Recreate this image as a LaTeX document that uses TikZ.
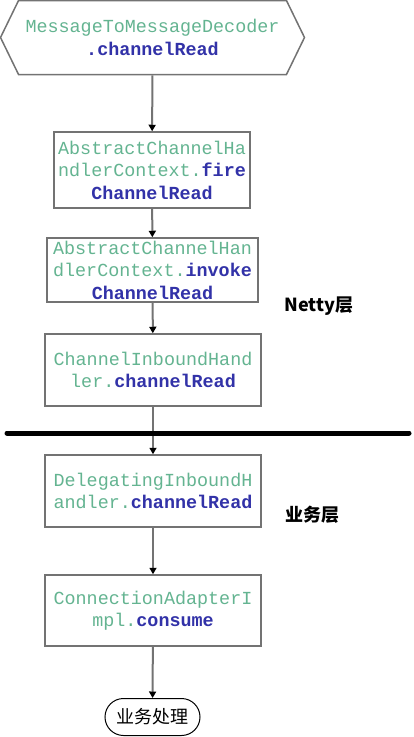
\documentclass[tikz,border=0pt]{standalone}
\usepackage{fontspec}
\setmonofont{Liberation Mono}
\newfontfamily\cjk{Noto Sans CJK SC}
\usetikzlibrary{arrows.meta,shapes.symbols,shapes.misc}
\definecolor{clsgreen}{RGB}{100,180,145}
\definecolor{mthblue}{RGB}{50,50,168}
\definecolor{edgegray}{RGB}{115,115,115}
\newcommand{\cls}[1]{\textcolor{clsgreen}{#1}}
\newcommand{\mth}[1]{\textcolor{mthblue}{\bfseries #1}}
\begin{document}
\begin{tikzpicture}[x=1pt,y=-1pt,
    callbox/.style={draw=edgegray, line width=1.5pt, fill=white, align=center, inner sep=0pt,
      font=\ttfamily\fontsize{18.4}{22.5}\selectfont},
    flow/.style={draw=edgegray, line width=2pt, -{Triangle[length=6.5pt,width=7pt,color=black]}},
    layer/.style={font=\cjk\bfseries\fontsize{18}{20}\selectfont}]
    \useasboundingbox (0,0) rectangle (413,737);
        % nodes
        \node[callbox, shape=signal, signal to=west and east, signal pointer angle=128,
              minimum width=304pt, minimum height=74pt] (decoder) at (152.5,37.5)
              {\cls{MessageToMessageDecoder}\\\mth{.channelRead}};
        \node[callbox, minimum width=196pt, minimum height=76pt] (fire) at (152,170)
              {\cls{AbstractChannelHa}\\\cls{ndlerContext.}\mth{fire}\\\mth{ChannelRead}};
        \node[callbox, minimum width=211pt, minimum height=64pt] (invoke) at (152.5,270)
              {\cls{AbstractChannelHan}\\\cls{dlerContext.}\mth{invoke}\\\mth{ChannelRead}};
        \node[callbox, minimum width=216pt, minimum height=72pt] (inbound) at (153,370)
              {\cls{ChannelInboundHand}\\\cls{ler.}\mth{channelRead}};
        \node[callbox, minimum width=216pt, minimum height=72pt] (delegating) at (153,491)
              {\cls{DelegatingInboundH}\\\cls{andler.}\mth{channelRead}};
        \node[callbox, minimum width=216pt, minimum height=71pt] (adapter) at (153,610.5)
              {\cls{ConnectionAdapterI}\\\cls{mpl.}\mth{consume}};
        \node[draw=black, line width=1pt, rounded rectangle, minimum width=95pt, minimum height=37pt,
              inner sep=0pt, font=\cjk\fontsize{18}{20}\selectfont] (business) at (152.5,717) {业务处理};
        \node[layer] (netty) at (319,306) {Netty层};
        \node[layer] (biz) at (312,515) {业务层};
        % edges
        \draw[flow] (decoder) -- (fire);
        \draw[flow] (fire) -- (invoke);
        \draw[flow] (invoke) -- (inbound);
        \draw[flow] (inbound) -- (delegating);
        \draw[flow] (delegating) -- (adapter);
        \draw[flow] (adapter) -- (business);
        % layer divider
        \coordinate (divl) at (7,433);
        \coordinate (divr) at (409,433);
        \draw[line width=5pt, line cap=round] (divl) -- (divr);
      \end{tikzpicture}
\end{document}
